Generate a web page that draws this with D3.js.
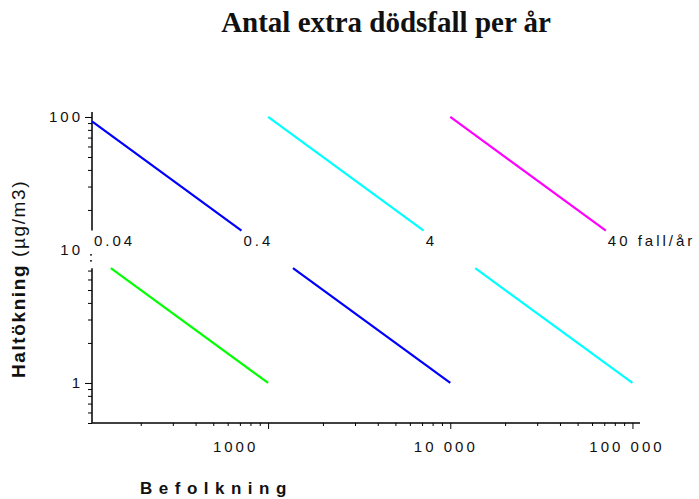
<!DOCTYPE html>
<html>
<head>
<meta charset="utf-8">
<script src="https://cdn.jsdelivr.net/npm/d3@7"></script>
<style>
  body { margin: 0; background: #fff; }
  text { font-family: "Liberation Sans", Arial, sans-serif; fill: #111; }
</style>
</head>
<body>
<svg width="699" height="499"></svg>
<script>
// population x concentration increase = constant along each line
var products = [1000, 10000, 100000, 1000000];
var deathLabels = ["0.04", "0.4", "4", "40 fall/år"];
var lineColors = ["#00ff00", "#0000ff", "#00ffff", "#ff00ff"];

var popDomain = [108, 110000];
var concDomain = [0.5, 109];
var concGap = [7.3, 14];      // the axis is broken between these
var concTop = 100, concBottom = 1;

var xTickValues = [1000, 10000, 100000];
var xTickText = ["1000", "10 000", "100 000"];
var xMinor = [200, 300, 400, 500, 600, 700, 800, 900,
              2000, 3000, 4000, 5000, 6000, 7000, 8000, 9000,
              20000, 30000, 40000, 50000, 60000, 70000, 80000, 90000];
var yTickValues = [1, 10, 100];
var yTickText = ["1", "10", "100"];
var yMinor = [0.5, 0.6, 0.7, 0.8, 0.9, 2, 3, 4, 5, 6, 7,
              20, 30, 40, 50, 60, 70, 80, 90];

var svg = d3.select("svg");

var x = d3.scaleLog().domain(popDomain).range([92, 640]);
var y = d3.scaleLog().domain(concDomain).range([423, 112]);

// title
svg.append("text")
    .attr("x", 386).attr("y", 32)
    .attr("text-anchor", "middle")
    .style("font-family", "'Liberation Serif', 'Times New Roman', serif")
    .style("font-weight", "bold")
    .style("font-size", "29px")
    .text("Antal extra dödsfall per år");

// y axis, two pieces
var yAxisG = svg.append("g").attr("transform", "translate(92,0)");
yAxisG.append("line")
    .attr("x1", 0).attr("x2", 0)
    .attr("y1", y(concDomain[1])).attr("y2", y(concGap[1]))
    .attr("stroke", "#000").attr("stroke-width", 1.5);
yAxisG.append("line")
    .attr("x1", 0).attr("x2", 0)
    .attr("y1", y(concGap[0])).attr("y2", y(concDomain[0]))
    .attr("stroke", "#000").attr("stroke-width", 1.5);

var yMinorAxis = d3.axisLeft(y).tickValues(yMinor).tickSize(4).tickFormat("");
yAxisG.append("g").call(yMinorAxis).call(function (g) { g.select(".domain").remove(); });

var yMajorAxis = d3.axisLeft(y).tickValues(yTickValues).tickSize(7).tickPadding(2)
    .tickFormat(function (d, i) { return yTickText[i]; });
yAxisG.append("g").call(yMajorAxis).call(function (g) {
    g.select(".domain").remove();
    g.selectAll("text")
        .style("font-size", "15px")
        .style("letter-spacing", "3px")
        .style("font-family", "'Liberation Sans', Arial, sans-serif")
        .attr("fill", "#111");
    // the 10 tick sits in the break: draw only small dots
    g.selectAll(".tick").filter(function (d) { return d === 10; }).select("line").remove();
});
// break dots
[5, 11].forEach(function (dy) {
    yAxisG.append("line")
        .attr("x1", -2).attr("x2", 0)
        .attr("y1", y(10) + dy).attr("y2", y(10) + dy)
        .attr("stroke", "#000").attr("stroke-width", 1.2);
});

// x axis
var xAxisG = svg.append("g").attr("transform", "translate(0,423)");
xAxisG.append("line")
    .attr("x1", x(popDomain[0])).attr("x2", x(popDomain[1]))
    .attr("stroke", "#000").attr("stroke-width", 1.5);
xAxisG.append("g")
    .call(d3.axisBottom(x).tickValues(xMinor).tickSize(3).tickFormat(""))
    .call(function (g) { g.select(".domain").remove(); });
var xLabelShift = [-33, -5, -6];
xAxisG.append("g")
    .call(d3.axisBottom(x).tickValues(xTickValues).tickSize(6).tickPadding(12)
        .tickFormat(function (d, i) { return xTickText[i]; }))
    .call(function (g) {
        g.select(".domain").remove();
        g.selectAll("text")
            .style("font-size", "15px")
            .style("letter-spacing", "3px")
            .style("font-family", "'Liberation Sans', Arial, sans-serif")
            .attr("fill", "#111")
            .attr("dx", function (d, i) { return xLabelShift[i]; });
    });

// lines of constant deaths, cut at the axis break
function segment(c, hi, lo) {
    var start = Math.min(hi, c / popDomain[0]);
    var end = Math.max(lo, c / popDomain[1]);
    if (start <= end) return null;
    return [[c / start, start], [c / end, end]];
}

var line = d3.line()
    .x(function (d) { return x(d[0]); })
    .y(function (d) { return y(d[1]); });

var segs = [];
products.forEach(function (c, i) {
    var top = segment(c, concTop, concGap[1]);
    var bot = segment(c, concGap[0], concBottom);
    if (top) segs.push({ pts: top, color: lineColors[i] });
    if (bot) segs.push({ pts: bot, color: lineColors[i] });
});

svg.append("g").selectAll("path")
    .data(segs)
    .enter().append("path")
    .attr("d", function (d) { return line(d.pts); })
    .attr("fill", "none")
    .attr("stroke", function (d) { return d.color; })
    .attr("stroke-width", 2.2);

// deaths-per-year labels where the lines reach the break
svg.append("g").selectAll("text")
    .data(products)
    .enter().append("text")
    .attr("x", function (c) { return Math.max(x(c / concGap[1]), x(popDomain[0])) + 2; })
    .attr("y", 246)
    .style("font-size", "15px")
    .style("letter-spacing", "3px")
    .text(function (c, i) { return deathLabels[i]; });

// axis titles
svg.append("text")
    .attr("x", 140).attr("y", 494)
    .style("font-size", "17px")
    .style("font-weight", "bold")
    .style("letter-spacing", "6.5px")
    .text("Befolkning");

var yTitle = svg.append("text")
    .attr("transform", "translate(25,378) rotate(-90)")
    .style("font-size", "19px")
    .style("letter-spacing", "1.6px");
yTitle.append("tspan").style("font-weight", "bold").text("Haltökning");
yTitle.append("tspan").text(" (µg/m3)");
</script>
</body>
</html>
